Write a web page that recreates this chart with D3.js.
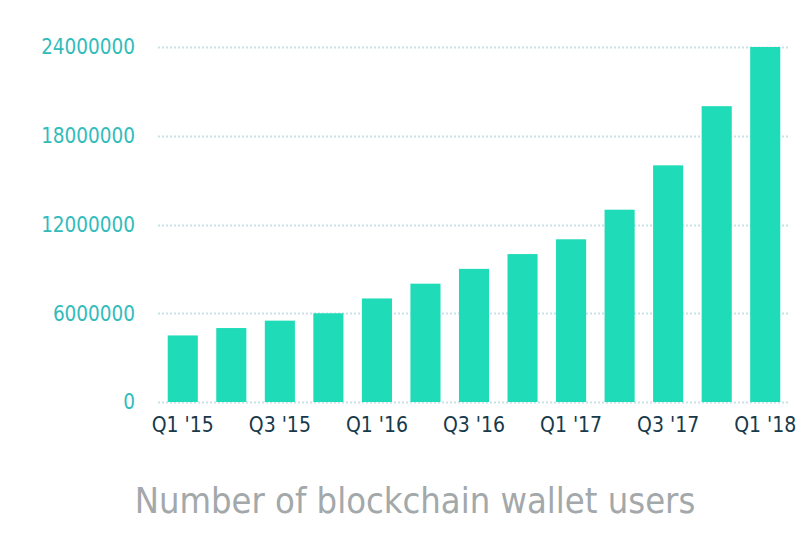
<!DOCTYPE html>
<html><head><meta charset="utf-8">
<script src="https://cdn.jsdelivr.net/npm/d3@7"></script>
<style>body{margin:0;background:#fff}svg{display:block}</style>
</head><body><svg id="c" width="808" height="554"></svg>
<script>
const categories = ["Q1 '15","Q2 '15","Q3 '15","Q4 '15","Q1 '16","Q2 '16","Q3 '16","Q4 '16","Q1 '17","Q2 '17","Q3 '17","Q4 '17","Q1 '18"];
const values = [4500000,5000000,5500000,6000000,7000000,8000000,9000000,10000000,11000000,13000000,16000000,20000000,24000000];
const yTicks = [0,6000000,12000000,18000000,24000000];
const xTickLabels = ["Q1 '15","Q3 '15","Q1 '16","Q3 '16","Q1 '17","Q3 '17","Q1 '18"];
const title = "Number of blockchain wallet users";

const svg = d3.select("#c");
const font = "'DejaVu Sans Condensed','DejaVu Sans',sans-serif";
const x = d3.scaleBand().domain(categories).range([158.5, 789.5]).paddingInner(0.38).paddingOuter(0.19);
const y = d3.scaleLinear().domain([0, 24000000]).range([402, 47]);

// grid
svg.append("g").selectAll("line").data(yTicks).join("line")
  .attr("x1", 158).attr("x2", 790)
  .attr("y1", d => Math.round(y(d)) + 0.5).attr("y2", d => Math.round(y(d)) + 0.5)
  .attr("stroke", "#c9e2ea").attr("stroke-width", 2).attr("stroke-dasharray", "2,2");

// bars
svg.append("g").selectAll("rect").data(values).join("rect")
  .attr("x", (d, i) => x(categories[i])).attr("width", x.bandwidth())
  .attr("y", d => y(d)).attr("height", d => y(0) - y(d))
  .attr("fill", "#1fdbb8");

// y axis
const yAxis = d3.axisLeft(y).tickValues(yTicks).tickSize(0).tickPadding(0).tickFormat(d3.format("d"));
const gy = svg.append("g").attr("transform", "translate(135,0)").call(yAxis);
gy.select(".domain").remove();
gy.selectAll("text").attr("fill", "#31bcbc").style("font-family", font).style("font-size", "20.5px").attr("dy", "0.34em");

// x axis
const xAxis = d3.axisBottom(x).tickValues(xTickLabels).tickSize(0).tickPadding(15);
const gx = svg.append("g").attr("transform", "translate(0,402)").call(xAxis);
gx.select(".domain").remove();
gx.selectAll("text").attr("fill", "#17394a").style("font-family", font).style("font-size", "21px");

// title
svg.append("text").attr("x", 415).attr("y", 513).attr("text-anchor", "middle")
  .attr("fill", "#a3a8aa").style("font-family", font).style("font-size", "36px").text(title);
</script></body></html>
